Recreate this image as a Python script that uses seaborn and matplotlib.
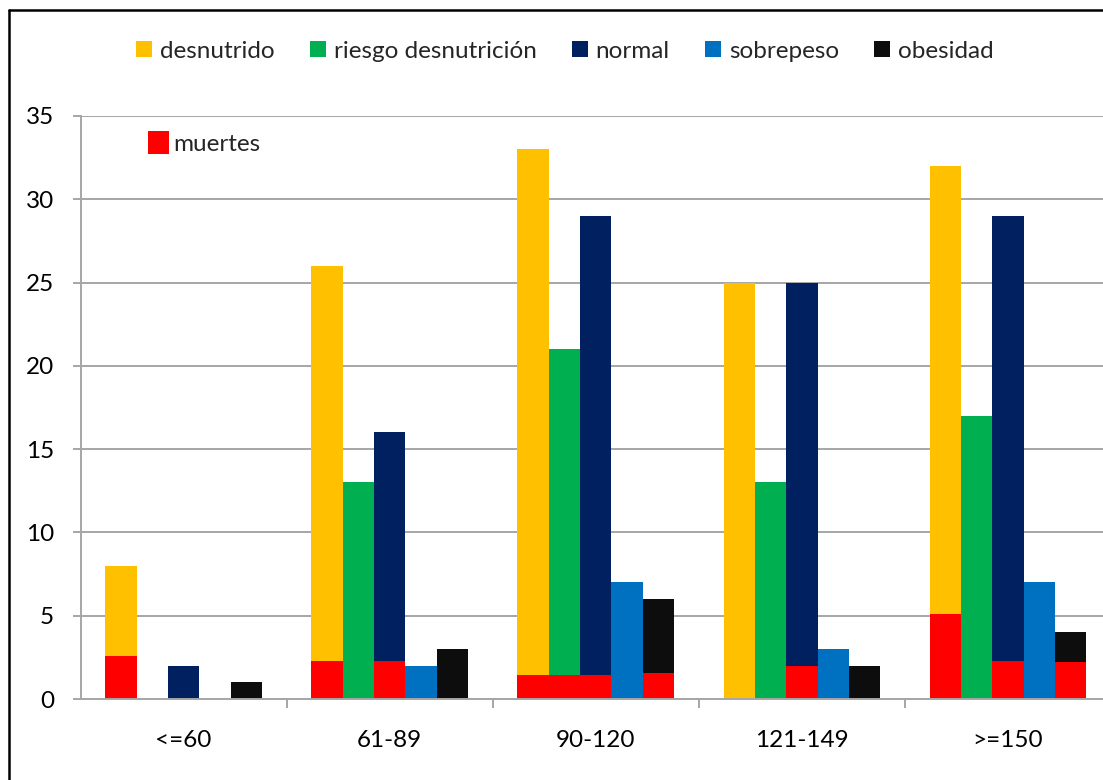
import matplotlib
matplotlib.use("Agg")
import matplotlib.pyplot as plt
from matplotlib.patches import Patch
from matplotlib.lines import Line2D
import seaborn as sns
import pandas as pd

# Age ranges (days) and nutritional-state series
rangos = ["<=60", "61-89", "90-120", "121-149", ">=150"]
estados = ["desnutrido", "riesgo desnutrición", "normal", "sobrepeso", "obesidad"]

desnutrido = [8, 26, 33, 25, 32]
riesgo_desnutricion = [0, 13, 21, 13, 17]
normal = [2, 16, 29, 25, 29]
sobrepeso = [0, 2, 7, 3, 7]
obesidad = [1, 3, 6, 2, 4]

# Deaths inside each group, drawn over the base of the bars
muertes_desnutrido = [2.6, 2.3, 1.45, 0, 5.1]
muertes_riesgo = [0, 0, 1.45, 0, 0]
muertes_normal = [0, 2.3, 1.45, 2.0, 2.3]
muertes_sobrepeso = [0, 0, 0, 0, 0]
muertes_obesidad = [0, 0, 1.55, 0, 2.2]

colores = ["#FFC000", "#00B050", "#002060", "#0070C0", "#0D0D0D"]
rojo = "#FF0000"

series = [desnutrido, riesgo_desnutricion, normal, sobrepeso, obesidad]
series_m = [muertes_desnutrido, muertes_riesgo, muertes_normal,
            muertes_sobrepeso, muertes_obesidad]

df = pd.DataFrame([
    {"rango": r, "estado": e, "valor": vals[i]}
    for e, vals in zip(estados, series) for i, r in enumerate(rangos)
])
df_m = pd.DataFrame([
    {"rango": r, "estado": e, "valor": vals[i]}
    for e, vals in zip(estados, series_m) for i, r in enumerate(rangos)
])

sns.set_theme(style="white")
plt.rcParams["font.family"] = ["Lato", "DejaVu Sans"]
FS = 17.5

W, H = 1103, 780
fig = plt.figure(figsize=(W / 100, H / 100), dpi=100)
ax = fig.add_axes([80.5 / W, (H - 699) / H, (1111 - 80.5) / W, (699 - 116) / H])

sns.barplot(data=df, x="rango", y="valor", hue="estado", order=rangos,
            hue_order=estados, palette=colores, width=0.76, gap=0,
            saturation=1, linewidth=0, legend=False, ax=ax)
sns.barplot(data=df_m, x="rango", y="valor", hue="estado", order=rangos,
            hue_order=estados, palette=[rojo] * 5, width=0.76, gap=0,
            saturation=1, linewidth=0, legend=False, ax=ax)

ax.set_xlim(-0.5, 4.5)
ax.set_ylim(0, 35)
ax.set_yticks(range(0, 36, 5))
ax.set_xlabel("")
ax.set_ylabel("")

grid_c = "#A6A6A6"
ax.set_axisbelow(True)
ax.yaxis.grid(True, color=grid_c, linewidth=1.4)
ax.xaxis.grid(False)
for s in ["top", "right"]:
    ax.spines[s].set_visible(False)
for s in ["left", "bottom"]:
    ax.spines[s].set_color(grid_c)
    ax.spines[s].set_linewidth(1.4)

ax.tick_params(axis="y", which="major", left=True, length=6, width=1.4,
               color=grid_c, pad=13, labelsize=FS, labelcolor="#000000")
ax.tick_params(axis="x", which="major", bottom=False, length=0, pad=22,
               labelsize=FS, labelcolor="#000000")
ax.set_xticks([i - 0.5 for i in range(1, 5)], minor=True)
ax.tick_params(axis="x", which="minor", bottom=True, length=6.5, width=1.4,
               color=grid_c)

# Series legend across the top
handles = [Patch(facecolor=c, edgecolor="none") for c in colores]
fig.legend(handles, estados, ncol=5, loc="center",
           bbox_to_anchor=(565 / W, 1 - 51 / H), frameon=False,
           fontsize=FS, handlelength=0.66, handleheight=0.66,
           handletextpad=0.32, columnspacing=1.45, borderpad=0)

# Deaths key inside the plot
ax.legend([Patch(facecolor=rojo, edgecolor="none")], ["muertes"],
          loc="center left", bbox_to_anchor=(148 / W, 1 - 143 / H),
          bbox_transform=fig.transFigure, frameon=False, fontsize=FS,
          handlelength=0.87, handleheight=1.1, handletextpad=0.18,
          borderpad=0, borderaxespad=0)

# Chart frame (left and top edges)
fig.add_artist(Line2D([8.5 / W, 8.5 / W], [0, 1 - 10 / H], color="black",
                      linewidth=1.8, transform=fig.transFigure))
fig.add_artist(Line2D([8.5 / W, 1], [1 - 10 / H, 1 - 10 / H], color="black",
                      linewidth=1.8, transform=fig.transFigure))

fig.savefig("out.png", dpi=100)
